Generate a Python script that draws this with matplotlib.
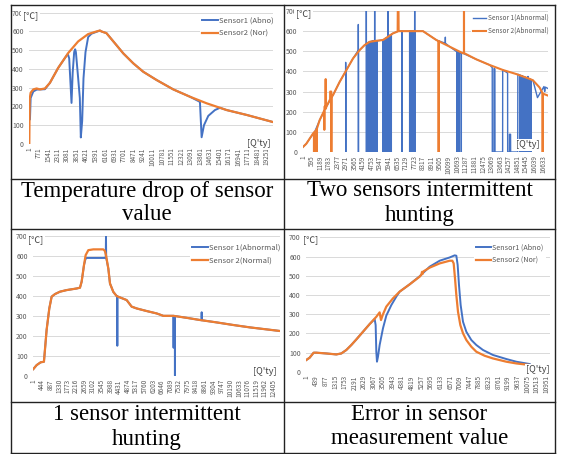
import matplotlib
matplotlib.use('Agg')
import matplotlib.pyplot as plt
from matplotlib.lines import Line2D

# ---------------- data ----------------
# Panel 1: Temperature drop of sensor value
p1_ticks = [1, 771, 1541, 2311, 3081, 3851, 4621, 5391, 6161, 6931, 7701, 8471, 9241,
            10011, 10781, 11551, 12321, 13091, 13861, 14631, 15401, 16171, 16941,
            17711, 18481, 19251]
p1_nor_idx = [1, 30, 109, 325, 594, 864, 1269, 1673, 2347, 3156, 3966, 4775, 5450, 5733,
              5855, 6260, 6932, 7626, 8437, 9248, 10330, 11682, 13034, 14386, 16008, 17631, 19770]
p1_nor_val = [0, 238, 273, 291, 296, 291, 296, 326, 406, 485, 547, 586, 600, 605,
              600, 591, 538, 483, 430, 385, 341, 291, 252, 217, 181, 155, 117]
p1_abn_idx = [30, 55, 110, 325, 600, 1270, 1673, 2347, 3100, 3156, 3237, 3426, 3520, 3640,
              3720, 3780, 3966, 4100, 4180, 4290, 4397, 4560, 4775, 5044, 5450, 5733, 5855,
              6260, 6932, 7626, 8437, 9248, 10330, 11682, 13034, 13800, 13845, 13980, 14170,
              14520, 15060, 15470, 16008, 17631, 19770]
p1_abn_val = [130, 131, 245, 280, 290, 292, 326, 406, 478, 474, 456, 219, 380, 490,
              505, 490, 350, 245, 35, 123, 350, 490, 570, 588, 598, 605, 600,
              591, 538, 483, 430, 385, 341, 291, 252, 226, 222, 36, 100,
              150, 181, 193, 181, 155, 117]

# Panel 2: Two sensors intermittent hunting
p2_ticks = [1, 595, 1189, 1783, 2377, 2971, 3565, 4159, 4753, 5347, 5941, 6535, 7129, 7723,
            8317, 8911, 9505, 10099, 10693, 11287, 11881, 12475, 13069, 13663, 14257,
            14851, 15445, 16039, 16633]
p2_s2_idx = [1, 230, 461, 700, 808, 1154, 1470, 1480, 1490, 1560, 1572, 1584, 1616, 1880,
             1885, 1960, 1965, 1975, 2078, 2540, 3002, 3464, 3926, 4273, 4619, 5081, 5543,
             5890, 6236, 6560, 6570, 6620, 6630, 8316, 9240, 10163, 11087, 12011, 12935,
             13859, 14783, 15706, 15937, 16400, 16560, 16980]
p2_s2_val = [25, 41, 66, 92, 100, 158, 205, 110, 225, 228, 362, 215, 224, 262,
             300, 300, 0, 272, 282, 348, 406, 464, 506, 531, 547, 552, 556,
             572, 589, 598, 700, 700, 600, 600, 556, 523, 490, 460, 432,
             407, 387, 363, 356, 320, 298, 280]
p2_s2_drop_idx = [763, 902, 948, 9403, 11158, 16612]
p2_s2_drop_base = [96, 106, 113, 550, 491, 290]
p2_s2_drop_to = [0, 0, 0, 0, 700, 0]

p2_s1_idx = [1, 230, 461, 808, 1154, 1616, 2078, 2540, 3002, 3464, 3926, 4273, 4619, 5081,
             5543, 5890, 6236, 6583, 8316, 9240, 10163, 11087, 12011, 12935, 13115, 13120,
             13230, 13237, 13300, 13307, 13835, 13840, 13859, 14180, 14185, 14305, 14310,
             14385, 14390, 14880, 14890, 15706, 15937, 16250, 16500, 16700, 16750, 16800, 16980]
p2_s1_val = [25, 41, 66, 100, 158, 224, 282, 348, 406, 464, 506, 531, 547, 552,
             556, 572, 589, 600, 600, 556, 523, 490, 460, 432, 419, 0,
             0, 414, 412, 0, 0, 403, 407, 392, 0, 0, 88,
             88, 0, 0, 386, 363, 356, 270, 300, 325, 300, 322, 315]
p2_s1_drop_idx = [2958, 2966, 3835, 3843,
                  4390, 4398, 4450, 4504, 4574, 4666, 4735, 4805, 4851, 4920, 4968, 4976,
                  5036, 5082, 5128,
                  5550, 5600, 5650, 5700, 5750, 5800, 5850, 5891, 5899, 5940, 5990, 6040,
                  6090, 6122, 6862,
                  7393, 7440, 7490, 7540, 7590, 7640, 7690, 7741, 7749,
                  9866, 10674, 10812, 10973,
                  15020, 15110, 15200, 15290, 15400, 15500, 15593, 15601, 15700, 15820]
p2_s1_drop_base = [400, 400, 505, 505,
                   536, 537, 540, 543, 545, 548, 549, 550, 550, 551, 551, 551,
                   552, 552, 552,
                   556, 558, 560, 563, 565, 567, 570, 572, 572, 574, 577, 580,
                   582, 584, 600,
                   600, 600, 600, 600, 600, 600, 600, 600, 600,
                   540, 497, 493, 490,
                   382, 379, 377, 374, 371, 368, 366, 366, 363, 359]
p2_s1_drop_to = [445, 0, 633, 0,
                 700, 0, 0, 0, 0, 0, 0, 0, 0, 0, 700, 0,
                 0, 0, 0,
                 0, 0, 0, 0, 0, 0, 0, 700, 0, 0, 0, 0,
                 0, 0, 0,
                 0, 0, 0, 0, 0, 0, 0, 700, 0,
                 570, 0, 0, 0,
                 0, 0, 0, 0, 0, 0, 375, 0, 0, 0]

# Panel 3: 1 sensor intermittent hunting
p3_ticks = [1, 444, 887, 1330, 1773, 2216, 2659, 3102, 3545, 3988, 4431, 4874, 5317, 5760,
            6203, 6646, 7089, 7532, 7975, 8418, 8861, 9304, 9747, 10190, 10633, 11076,
            11519, 11962, 12405]
p3_nor_idx = [1, 173, 380, 551, 690, 828, 949, 1121, 1379, 1724, 2241, 2413, 2499, 2620,
              2706, 2844, 3102, 3619, 3700, 3757, 3878, 3964, 4136, 4309, 4825, 5084, 5343,
              5860, 6376, 6721, 7238, 7927, 8616, 9478, 10339, 11201, 12062, 12751]
p3_nor_val = [33, 53, 67, 70, 230, 337, 396, 409, 421, 429, 437, 441, 471, 554,
              604, 629, 633, 633, 625, 604, 537, 462, 420, 399, 379, 346, 337,
              324, 312, 300, 300, 290, 279, 267, 254, 242, 232, 224]
p3_abn_idx = [1, 173, 380, 551, 690, 828, 949, 1121, 1379, 1724, 2241, 2413, 2499, 2620,
              2700, 2760, 3690, 3745, 3757, 3768, 3878, 3964, 4136, 4309, 4825, 5084, 5343,
              5860, 6376, 6721, 7238, 7927, 8616, 9478, 10339, 11201, 12062, 12751]
p3_abn_val = [33, 53, 67, 70, 230, 337, 396, 409, 421, 429, 437, 441, 471, 554,
              585, 590, 590, 592, 700, 592, 537, 462, 420, 399, 379, 346, 337,
              324, 312, 300, 300, 290, 279, 267, 254, 242, 232, 224]
p3_abn_drop_idx = [4343, 7250, 7320, 8702]
p3_abn_drop_base = [397, 300, 299, 278]
p3_abn_drop_to = [150, 140, 0, 318]

# Panel 4: Error in sensor measurement value
p4_ticks = [1, 439, 877, 1315, 1753, 2191, 2629, 3067, 3505, 3943, 4381, 4819, 5257, 5695,
            6133, 6571, 7009, 7447, 7885, 8323, 8761, 9199, 9637, 10075, 10513, 10951]
p4_nor_idx = [1, 153, 336, 457, 914, 1370, 1598, 1826, 2054, 2283, 2587, 2891, 3195, 3347,
              3408, 3499, 3651, 3955, 4260, 4716, 5172, 5250, 5280, 5310, 5340, 5629, 6085,
              6541, 6663, 6724, 6785, 6846, 6922, 7028, 7150, 7302, 7530, 7758, 8138, 8519,
              9127, 9583, 10191]
p4_nor_val = [61, 73, 99, 99, 95, 90, 95, 113, 139, 168, 208, 248, 286, 309,
              269, 299, 339, 382, 417, 455, 495, 505, 520, 510, 522, 542, 564,
              578, 578, 564, 486, 399, 312, 243, 200, 165, 130, 104, 83, 69,
              52, 43, 35]
p4_abn_idx = [1, 153, 336, 457, 914, 1370, 1598, 1826, 2054, 2283, 2587, 2891, 3119, 3165,
              3195, 3225, 3271, 3347, 3499, 3651, 3880, 4108, 4260, 4716, 5172, 5629, 6085,
              6541, 6769, 6846, 6906, 6967, 7043, 7150, 7302, 7530, 7758, 8062, 8519, 9127,
              9583, 10191]
p4_abn_val = [61, 73, 99, 99, 95, 90, 95, 113, 139, 168, 208, 248, 274, 243,
              104, 52, 78, 139, 226, 292, 347, 391, 417, 455, 497, 547, 578,
              595, 606, 604, 556, 451, 347, 260, 208, 165, 139, 113, 87, 66,
              52, 40]

captions = [["Temperature drop of sensor", "value"],
            ["Two sensors intermittent", "hunting"],
            ["1 sensor intermittent", "hunting"],
            ["Error in sensor", "measurement value"]]
legend_labels = [["Sensor1 (Abno)", "Sensor2 (Nor)"],
                 ["Sensor 1(Abnormal)", "Sensor 2(Abnormal)"],
                 ["Sensor 1(Abnormal)", "Sensor 2(Normal)"],
                 ["Sensor1 (Abno)", "Sensor2 (Nor)"]]

# ---------------- style ----------------
W, H = 561, 454
BLUE = '#4472C4'
ORANGE = '#ED7D31'
GRID = '#D9D9D9'
TXT = '#595959'
SANS = ['Noto Sans CJK KR', 'DejaVu Sans']
SERIF = ['Liberation Serif', 'DejaVu Serif']

fig = plt.figure(figsize=(W / 100, H / 100), dpi=100)


def fx(x):
    return x / W


def fy(y):
    return 1 - y / H


def with_drops(idx, val, d_idx, d_base, d_to, w):
    pts = list(zip(idx, val))
    for i, b, t in zip(d_idx, d_base, d_to):
        pts += [(i - w, b), (i, t), (i + w, b)]
    pts.sort(key=lambda p: p[0])
    return [p[0] for p in pts], [p[1] for p in pts]


def make_axes(l, r, t, b, xmax, ticks):
    ax = fig.add_axes([fx(l), fy(b), fx(r) - fx(l), fy(t) - fy(b)])
    ax.set_xlim(1, xmax)
    ax.set_ylim(0, 700)
    ax.set_yticks(range(0, 701, 100))
    ax.set_xticks(ticks)
    ax.set_xticklabels([str(t) for t in ticks], rotation=90, fontsize=4.6,
                       color=TXT, family=SANS)
    for lab in ax.get_yticklabels():
        lab.set_fontsize(5)
        lab.set_color(TXT)
        lab.set_family(SANS)
    ax.tick_params(length=0, pad=2.5)
    ax.tick_params(axis='y', pad=4)
    for s in ax.spines.values():
        s.set_visible(False)
    ax.yaxis.grid(True, color=GRID, lw=0.7)
    ax.set_axisbelow(True)
    ax.patch.set_alpha(0)
    return ax


def decorate(ax, deg_xy, qty_xy, leg_xy, leg_fs, labels):
    fig.text(fx(deg_xy[0]), fy(deg_xy[1]), "[℃]", fontsize=6.5, color='#404040',
             family=SANS, va='center', ha='left',
             bbox=dict(facecolor='white', edgecolor='none', pad=1.2))
    fig.text(fx(qty_xy[0]), fy(qty_xy[1]), "[Q'ty]", fontsize=6.5, color='#404040',
             family=SANS, va='center', ha='left', zorder=5,
             bbox=dict(facecolor='white', edgecolor='none', pad=1.0))
    lg = ax.legend(labels, loc='upper left', bbox_to_anchor=(fx(leg_xy[0]), fy(leg_xy[1])),
                   bbox_transform=fig.transFigure, frameon=True, fancybox=False,
                   edgecolor='none', facecolor='white', framealpha=1, borderpad=0.3,
                   borderaxespad=0, handlelength=2.0, handletextpad=0.25,
                   labelspacing=0.75, prop={'family': SANS, 'size': leg_fs})
    for t in lg.get_texts():
        t.set_color(TXT)
    lg.set_zorder(6)


# Panel 1
ax1 = make_axes(29.3, 273, 12.7, 144, 19770, p1_ticks)
ax1.plot(p1_abn_idx, p1_abn_val, color=BLUE, lw=1.4)
ax1.plot(p1_nor_idx, p1_nor_val, color=ORANGE, lw=1.6)
decorate(ax1, (23, 16), (247, 144), (200, 14), 5.5, legend_labels[0])

# Panel 2
ax2 = make_axes(303, 548, 11, 152, 16980, p2_ticks)
x, y = with_drops(p2_s1_idx, p2_s1_val, p2_s1_drop_idx, p2_s1_drop_base, p2_s1_drop_to, 4)
ax2.plot(x, y, color=BLUE, lw=1.0)
x, y = with_drops(p2_s2_idx, p2_s2_val, p2_s2_drop_idx, p2_s2_drop_base, p2_s2_drop_to, 4)
ax2.plot(x, y, color=ORANGE, lw=1.5)
decorate(ax2, (296, 14), (516, 145), (471, 12), 4.7, legend_labels[1])

# Panel 3
ax3 = make_axes(33.3, 280, 236, 375.7, 12750, p3_ticks)
x, y = with_drops(p3_abn_idx, p3_abn_val, p3_abn_drop_idx, p3_abn_drop_base, p3_abn_drop_to, 5)
ax3.plot(x, y, color=BLUE, lw=1.4)
ax3.plot(p3_nor_idx, p3_nor_val, color=ORANGE, lw=1.6)
decorate(ax3, (28, 240), (253, 372), (190, 241), 5.5, legend_labels[2])

# Panel 4
ax4 = make_axes(306.3, 549.7, 237.3, 371.7, 11105, p4_ticks)
ax4.plot(p4_abn_idx, p4_abn_val, color=BLUE, lw=1.4)
ax4.plot(p4_nor_idx, p4_nor_val, color=ORANGE, lw=1.6)
decorate(ax4, (303, 240), (526, 370), (474, 241), 5.2, legend_labels[3])

# Captions
cap_pos = [(147, 191, 215), (419.5, 191, 215), (147, 415, 439), (419.5, 415, 439)]
for (cx, y1, y2), lines in zip(cap_pos, captions):
    fig.text(fx(cx), fy(y1), lines[0], ha='center', va='center', fontsize=16.5,
             family=SERIF, color='black')
    fig.text(fx(cx), fy(y2), lines[1], ha='center', va='center', fontsize=16.5,
             family=SERIF, color='black')

# Table lines
for xv in (10.5, 284, 555):
    fig.add_artist(Line2D([fx(xv), fx(xv)], [fy(5), fy(454)], color='#222222', lw=1.0))
for yv in (5, 178.5, 228.5, 402, 453):
    fig.add_artist(Line2D([fx(10.5), fx(555)], [fy(yv), fy(yv)], color='#222222', lw=1.0))

fig.savefig('out.png', dpi=100)
